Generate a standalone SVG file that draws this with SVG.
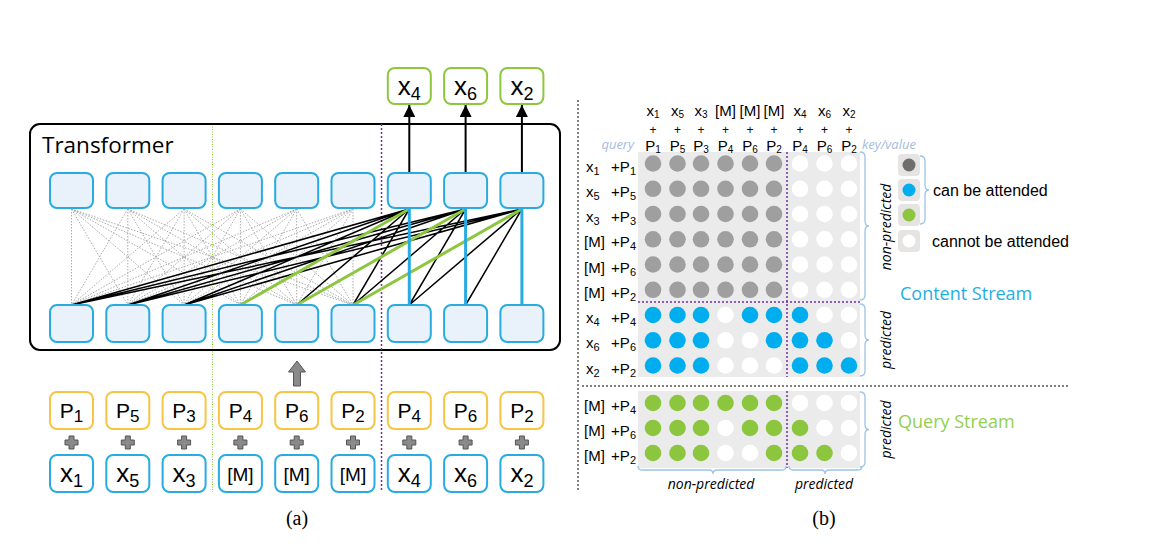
<svg xmlns="http://www.w3.org/2000/svg" width="1157" height="551" viewBox="0 0 1157 551">
<style>
text { font-family: "Liberation Sans", Arial, sans-serif; fill:#000; }
.tb { fill:#E9F1FA; stroke:#29ABE2; stroke-width:2; }
.ib { fill:#fff; stroke:#29ABE2; stroke-width:2; }
.pb { fill:#fff; stroke:#F7C544; stroke-width:2; }
.ob { fill:#fff; stroke:#8DC63F; stroke-width:2; }
.tx { font-size:26px; text-anchor:middle; }
.tx tspan { font-size:18px; }
.tp { font-size:21px; text-anchor:middle; }
.tp tspan { font-size:17px; }
.tm { font-size:19px; text-anchor:middle; }
.dot { fill:none; stroke:#aaaaaa; stroke-width:1; stroke-dasharray:1.5 1.5; }
.blk { fill:none; stroke:#000; stroke-width:1.5; }
.grn { fill:none; stroke:#8DC63F; stroke-width:3; }
.blu { fill:none; stroke:#29ABE2; stroke-width:3; }
.up { fill:none; stroke:#000; stroke-width:2; marker-end:url(#ah); }
.plus { fill:#8a8a8a; stroke:#555; stroke-width:1; }
.hd { font-size:15px; text-anchor:middle; }
.hd tspan { font-size:10px; }
.hp { font-size:12px; text-anchor:middle; }
.rl { font-size:15px; }
.rl tspan { font-size:11px; }
.bg { fill:#EBEBEB; }
.g { fill:#9F9F9F; } .b { fill:#00AEEF; } .q { fill:#8CC63F; } .w { fill:#fff; }
.pur { fill:none; stroke:#7030A0; stroke-width:1.5; stroke-dasharray:2 2; }
.br { fill:none; stroke:#9DC3E6; stroke-width:1.3; }
.it { font-family:"Open Sans", sans-serif; font-style:italic; font-size:14px; }
.lg { font-size:16px; }
.cap { font-family:"Liberation Serif", serif; font-size:20px; text-anchor:middle; }
</style>
<defs>
<marker id="ah" viewBox="0 0 10 10" refX="10" refY="5" markerWidth="12" markerHeight="12" markerUnits="userSpaceOnUse" orient="auto"><path d="M0,0 L10,5 L0,10 z" fill="#000"/></marker>
<path id="plusShape" d="M-2.5,-6.5 h5 v4 h4 v5 h-4 v4 h-5 v-4 h-4 v-5 h4 z"/>
</defs>

<!-- separators -->
<line x1="212.5" y1="124" x2="212.5" y2="492" stroke="#8DC63F" stroke-width="1" stroke-dasharray="1 1.5"/>
<line x1="578" y1="100" x2="578" y2="492" stroke="#000" stroke-width="1" stroke-dasharray="2 2"/>
<line x1="582" y1="386" x2="1070" y2="386" stroke="#000" stroke-width="1" stroke-dasharray="2 2"/>

<g id="transformer">
<rect x="30" y="124" width="530" height="226" rx="10" fill="none" stroke="#000" stroke-width="2"/>
<text x="42" y="153" style="font-family:'Open Sans',sans-serif;font-size:22.5px;">Transformer</text>
</g>
<line x1="381.5" y1="124" x2="381.5" y2="492" class="pur"/>

<g id="connectors">
<path class="dot" d="M71.5 209L71.5 305M71.5 209L127.8 305M71.5 209L184.1 305M71.5 209L240.4 305M71.5 209L296.7 305M71.5 209L353 305
M127.8 209L71.5 305M127.8 209L127.8 305M127.8 209L184.1 305M127.8 209L240.4 305M127.8 209L296.7 305M127.8 209L353 305
M184.1 209L71.5 305M184.1 209L127.8 305M184.1 209L184.1 305M184.1 209L240.4 305M184.1 209L296.7 305M184.1 209L353 305
M240.4 209L71.5 305M240.4 209L127.8 305M240.4 209L184.1 305M240.4 209L240.4 305M240.4 209L296.7 305M240.4 209L353 305
M296.7 209L71.5 305M296.7 209L127.8 305M296.7 209L184.1 305M296.7 209L240.4 305M296.7 209L296.7 305M296.7 209L353 305
M353 209L71.5 305M353 209L127.8 305M353 209L184.1 305M353 209L240.4 305M353 209L296.7 305M353 209L353 305"/>
<path class="blk" d="M409.3 209L71.5 305M409.3 209L127.8 305M409.3 209L184.1 305M409.3 209L296.7 305M409.3 209L353 305
M465.6 209L71.5 305M465.6 209L127.8 305M465.6 209L184.1 305M465.6 209L353 305M465.6 209L409.3 305
M521.9 209L71.5 305M521.9 209L127.8 305M521.9 209L184.1 305M521.9 209L409.3 305M521.9 209L465.6 305"/>
<path class="grn" d="M240.4 305L409.3 209M296.7 305L465.6 209M353 305L521.9 209"/>
<path class="blu" d="M409.3 209V305M465.6 209V305M521.9 209V305"/>
<path class="up" d="M409.3 173V105"/>
<path class="up" d="M465.6 173V105"/>
<path class="up" d="M521.9 173V105"/>
<polygon points="297,361 305.5,372 300.5,372 300.5,386 293.5,386 293.5,372 288.5,372" fill="#8a8a8a" stroke="#555" stroke-width="1"/>
<g class="plus">
<use href="#plusShape" x="71.5" y="442.5"/><use href="#plusShape" x="127.8" y="442.5"/><use href="#plusShape" x="184.1" y="442.5"/>
<use href="#plusShape" x="240.4" y="442.5"/><use href="#plusShape" x="296.7" y="442.5"/><use href="#plusShape" x="353" y="442.5"/>
<use href="#plusShape" x="409.3" y="442.5"/><use href="#plusShape" x="465.6" y="442.5"/><use href="#plusShape" x="521.9" y="442.5"/>
</g>
</g>

<!-- output nodes -->
<g id="out-x4"><rect class="ob" x="387.8" y="68" width="43" height="36" rx="7"/><text class="tx" x="409.3" y="95">x<tspan dy="5">4</tspan></text></g>
<g id="out-x6"><rect class="ob" x="444.1" y="68" width="43" height="36" rx="7"/><text class="tx" x="465.6" y="95">x<tspan dy="5">6</tspan></text></g>
<g id="out-x2"><rect class="ob" x="500.4" y="68" width="43" height="36" rx="7"/><text class="tx" x="521.9" y="95">x<tspan dy="5">2</tspan></text></g>

<!-- top hidden layer -->
<g id="h2-1"><rect class="tb" x="50" y="173" width="43" height="35" rx="7"/></g>
<g id="h2-2"><rect class="tb" x="106.3" y="173" width="43" height="35" rx="7"/></g>
<g id="h2-3"><rect class="tb" x="162.6" y="173" width="43" height="35" rx="7"/></g>
<g id="h2-4"><rect class="tb" x="218.9" y="173" width="43" height="35" rx="7"/></g>
<g id="h2-5"><rect class="tb" x="275.2" y="173" width="43" height="35" rx="7"/></g>
<g id="h2-6"><rect class="tb" x="331.5" y="173" width="43" height="35" rx="7"/></g>
<g id="h2-7"><rect class="tb" x="387.8" y="173" width="43" height="35" rx="7"/></g>
<g id="h2-8"><rect class="tb" x="444.1" y="173" width="43" height="35" rx="7"/></g>
<g id="h2-9"><rect class="tb" x="500.4" y="173" width="43" height="35" rx="7"/></g>

<!-- bottom hidden layer -->
<g id="h1-1"><rect class="tb" x="50" y="305" width="43" height="37" rx="7"/></g>
<g id="h1-2"><rect class="tb" x="106.3" y="305" width="43" height="37" rx="7"/></g>
<g id="h1-3"><rect class="tb" x="162.6" y="305" width="43" height="37" rx="7"/></g>
<g id="h1-4"><rect class="tb" x="218.9" y="305" width="43" height="37" rx="7"/></g>
<g id="h1-5"><rect class="tb" x="275.2" y="305" width="43" height="37" rx="7"/></g>
<g id="h1-6"><rect class="tb" x="331.5" y="305" width="43" height="37" rx="7"/></g>
<g id="h1-7"><rect class="tb" x="387.8" y="305" width="43" height="37" rx="7"/></g>
<g id="h1-8"><rect class="tb" x="444.1" y="305" width="43" height="37" rx="7"/></g>
<g id="h1-9"><rect class="tb" x="500.4" y="305" width="43" height="37" rx="7"/></g>

<!-- position nodes -->
<g id="p1"><rect class="pb" x="50" y="392" width="43" height="37" rx="7"/><text class="tp" x="71.5" y="418">P<tspan dy="4">1</tspan></text></g>
<g id="p5"><rect class="pb" x="106.3" y="392" width="43" height="37" rx="7"/><text class="tp" x="127.8" y="418">P<tspan dy="4">5</tspan></text></g>
<g id="p3"><rect class="pb" x="162.6" y="392" width="43" height="37" rx="7"/><text class="tp" x="184.1" y="418">P<tspan dy="4">3</tspan></text></g>
<g id="p4a"><rect class="pb" x="218.9" y="392" width="43" height="37" rx="7"/><text class="tp" x="240.4" y="418">P<tspan dy="4">4</tspan></text></g>
<g id="p6a"><rect class="pb" x="275.2" y="392" width="43" height="37" rx="7"/><text class="tp" x="296.7" y="418">P<tspan dy="4">6</tspan></text></g>
<g id="p2a"><rect class="pb" x="331.5" y="392" width="43" height="37" rx="7"/><text class="tp" x="353" y="418">P<tspan dy="4">2</tspan></text></g>
<g id="p4b"><rect class="pb" x="387.8" y="392" width="43" height="37" rx="7"/><text class="tp" x="409.3" y="418">P<tspan dy="4">4</tspan></text></g>
<g id="p6b"><rect class="pb" x="444.1" y="392" width="43" height="37" rx="7"/><text class="tp" x="465.6" y="418">P<tspan dy="4">6</tspan></text></g>
<g id="p2b"><rect class="pb" x="500.4" y="392" width="43" height="37" rx="7"/><text class="tp" x="521.9" y="418">P<tspan dy="4">2</tspan></text></g>

<!-- token nodes -->
<g id="x1"><rect class="ib" x="50" y="455" width="43" height="37" rx="7"/><text class="tx" x="71.5" y="482">x<tspan dy="5">1</tspan></text></g>
<g id="x5"><rect class="ib" x="106.3" y="455" width="43" height="37" rx="7"/><text class="tx" x="127.8" y="482">x<tspan dy="5">5</tspan></text></g>
<g id="x3"><rect class="ib" x="162.6" y="455" width="43" height="37" rx="7"/><text class="tx" x="184.1" y="482">x<tspan dy="5">3</tspan></text></g>
<g id="m4"><rect class="ib" x="218.9" y="455" width="43" height="37" rx="7"/><text class="tm" x="240.4" y="481">[M]</text></g>
<g id="m6"><rect class="ib" x="275.2" y="455" width="43" height="37" rx="7"/><text class="tm" x="296.7" y="481">[M]</text></g>
<g id="m2"><rect class="ib" x="331.5" y="455" width="43" height="37" rx="7"/><text class="tm" x="353" y="481">[M]</text></g>
<g id="x4"><rect class="ib" x="387.8" y="455" width="43" height="37" rx="7"/><text class="tx" x="409.3" y="482">x<tspan dy="5">4</tspan></text></g>
<g id="x6"><rect class="ib" x="444.1" y="455" width="43" height="37" rx="7"/><text class="tx" x="465.6" y="482">x<tspan dy="5">6</tspan></text></g>
<g id="x2"><rect class="ib" x="500.4" y="455" width="43" height="37" rx="7"/><text class="tx" x="521.9" y="482">x<tspan dy="5">2</tspan></text></g>

<text class="cap" x="297" y="525">(a)</text>

<!-- (b) attention mask -->
<g id="mask">
<rect class="bg" x="638" y="152" width="222" height="225"/>
<rect class="bg" x="638" y="391" width="222" height="77"/>
<g id="col-headers">
<text class="hd" x="653" y="116">x<tspan dy="2">1</tspan></text>
<text class="hd" x="677.5" y="116">x<tspan dy="2">5</tspan></text>
<text class="hd" x="701" y="116">x<tspan dy="2">3</tspan></text>
<text class="hd" x="725.5" y="116">[M]</text>
<text class="hd" x="750" y="116">[M]</text>
<text class="hd" x="774" y="116">[M]</text>
<text class="hd" x="800" y="116">x<tspan dy="2">4</tspan></text>
<text class="hd" x="824.5" y="116">x<tspan dy="2">6</tspan></text>
<text class="hd" x="849" y="116">x<tspan dy="2">2</tspan></text>
<text class="hp" x="653" y="133.5">+</text><text class="hp" x="677.5" y="133.5">+</text><text class="hp" x="701" y="133.5">+</text>
<text class="hp" x="725.5" y="133.5">+</text><text class="hp" x="750" y="133.5">+</text><text class="hp" x="774" y="133.5">+</text>
<text class="hp" x="800" y="133.5">+</text><text class="hp" x="824.5" y="133.5">+</text><text class="hp" x="849" y="133.5">+</text>
<text class="hd" x="653" y="151">P<tspan dy="2">1</tspan></text>
<text class="hd" x="677.5" y="151">P<tspan dy="2">5</tspan></text>
<text class="hd" x="701" y="151">P<tspan dy="2">3</tspan></text>
<text class="hd" x="725.5" y="151">P<tspan dy="2">4</tspan></text>
<text class="hd" x="750" y="151">P<tspan dy="2">6</tspan></text>
<text class="hd" x="774" y="151">P<tspan dy="2">2</tspan></text>
<text class="hd" x="800" y="151">P<tspan dy="2">4</tspan></text>
<text class="hd" x="824.5" y="151">P<tspan dy="2">6</tspan></text>
<text class="hd" x="849" y="151">P<tspan dy="2">2</tspan></text>
</g>
<text x="634" y="149" text-anchor="end" style="font-family:'Open Sans',sans-serif;font-style:italic;font-size:13px;fill:#A5BCE0;">query</text>
<text x="862" y="149" style="font-family:'Open Sans',sans-serif;font-style:italic;font-size:13px;fill:#A5BCE0;">key/value</text>

<g id="row-labels">
<text class="rl" x="586" y="171.5">x<tspan dy="3">1</tspan></text><text class="rl" x="636" y="171.5" text-anchor="end">+P<tspan dy="3">1</tspan></text>
<text class="rl" x="586" y="196.8">x<tspan dy="3">5</tspan></text><text class="rl" x="636" y="196.8" text-anchor="end">+P<tspan dy="3">5</tspan></text>
<text class="rl" x="586" y="222">x<tspan dy="3">3</tspan></text><text class="rl" x="636" y="222" text-anchor="end">+P<tspan dy="3">3</tspan></text>
<text class="rl" x="584" y="247.3">[M]</text><text class="rl" x="636" y="247.3" text-anchor="end">+P<tspan dy="3">4</tspan></text>
<text class="rl" x="584" y="272.5">[M]</text><text class="rl" x="636" y="272.5" text-anchor="end">+P<tspan dy="3">6</tspan></text>
<text class="rl" x="584" y="297.8">[M]</text><text class="rl" x="636" y="297.8" text-anchor="end">+P<tspan dy="3">2</tspan></text>
<text class="rl" x="586" y="323">x<tspan dy="3">4</tspan></text><text class="rl" x="636" y="323" text-anchor="end">+P<tspan dy="3">4</tspan></text>
<text class="rl" x="586" y="348.3">x<tspan dy="3">6</tspan></text><text class="rl" x="636" y="348.3" text-anchor="end">+P<tspan dy="3">6</tspan></text>
<text class="rl" x="586" y="373.5">x<tspan dy="3">2</tspan></text><text class="rl" x="636" y="373.5" text-anchor="end">+P<tspan dy="3">2</tspan></text>
<text class="rl" x="584" y="411">[M]</text><text class="rl" x="636" y="411" text-anchor="end">+P<tspan dy="3">4</tspan></text>
<text class="rl" x="584" y="436">[M]</text><text class="rl" x="636" y="436" text-anchor="end">+P<tspan dy="3">6</tspan></text>
<text class="rl" x="584" y="461">[M]</text><text class="rl" x="636" y="461" text-anchor="end">+P<tspan dy="3">2</tspan></text>
</g>

<g id="cells">
<g transform="translate(0,163.5)"><circle class="g" cx="653" r="8.3"/><circle class="g" cx="677.5" r="8.3"/><circle class="g" cx="701" r="8.3"/><circle class="g" cx="725.5" r="8.3"/><circle class="g" cx="750" r="8.3"/><circle class="g" cx="774" r="8.3"/><circle class="w" cx="800" r="8.3"/><circle class="w" cx="824.5" r="8.3"/><circle class="w" cx="849" r="8.3"/></g>
<g transform="translate(0,188.8)"><circle class="g" cx="653" r="8.3"/><circle class="g" cx="677.5" r="8.3"/><circle class="g" cx="701" r="8.3"/><circle class="g" cx="725.5" r="8.3"/><circle class="g" cx="750" r="8.3"/><circle class="g" cx="774" r="8.3"/><circle class="w" cx="800" r="8.3"/><circle class="w" cx="824.5" r="8.3"/><circle class="w" cx="849" r="8.3"/></g>
<g transform="translate(0,214)"><circle class="g" cx="653" r="8.3"/><circle class="g" cx="677.5" r="8.3"/><circle class="g" cx="701" r="8.3"/><circle class="g" cx="725.5" r="8.3"/><circle class="g" cx="750" r="8.3"/><circle class="g" cx="774" r="8.3"/><circle class="w" cx="800" r="8.3"/><circle class="w" cx="824.5" r="8.3"/><circle class="w" cx="849" r="8.3"/></g>
<g transform="translate(0,239.3)"><circle class="g" cx="653" r="8.3"/><circle class="g" cx="677.5" r="8.3"/><circle class="g" cx="701" r="8.3"/><circle class="g" cx="725.5" r="8.3"/><circle class="g" cx="750" r="8.3"/><circle class="g" cx="774" r="8.3"/><circle class="w" cx="800" r="8.3"/><circle class="w" cx="824.5" r="8.3"/><circle class="w" cx="849" r="8.3"/></g>
<g transform="translate(0,264.5)"><circle class="g" cx="653" r="8.3"/><circle class="g" cx="677.5" r="8.3"/><circle class="g" cx="701" r="8.3"/><circle class="g" cx="725.5" r="8.3"/><circle class="g" cx="750" r="8.3"/><circle class="g" cx="774" r="8.3"/><circle class="w" cx="800" r="8.3"/><circle class="w" cx="824.5" r="8.3"/><circle class="w" cx="849" r="8.3"/></g>
<g transform="translate(0,289.8)"><circle class="g" cx="653" r="8.3"/><circle class="g" cx="677.5" r="8.3"/><circle class="g" cx="701" r="8.3"/><circle class="g" cx="725.5" r="8.3"/><circle class="g" cx="750" r="8.3"/><circle class="g" cx="774" r="8.3"/><circle class="w" cx="800" r="8.3"/><circle class="w" cx="824.5" r="8.3"/><circle class="w" cx="849" r="8.3"/></g>
<g transform="translate(0,315)"><circle class="b" cx="653" r="8.3"/><circle class="b" cx="677.5" r="8.3"/><circle class="b" cx="701" r="8.3"/><circle class="w" cx="725.5" r="8.3"/><circle class="b" cx="750" r="8.3"/><circle class="b" cx="774" r="8.3"/><circle class="b" cx="800" r="8.3"/><circle class="w" cx="824.5" r="8.3"/><circle class="w" cx="849" r="8.3"/></g>
<g transform="translate(0,340.3)"><circle class="b" cx="653" r="8.3"/><circle class="b" cx="677.5" r="8.3"/><circle class="b" cx="701" r="8.3"/><circle class="w" cx="725.5" r="8.3"/><circle class="w" cx="750" r="8.3"/><circle class="b" cx="774" r="8.3"/><circle class="b" cx="800" r="8.3"/><circle class="b" cx="824.5" r="8.3"/><circle class="w" cx="849" r="8.3"/></g>
<g transform="translate(0,365.5)"><circle class="b" cx="653" r="8.3"/><circle class="b" cx="677.5" r="8.3"/><circle class="b" cx="701" r="8.3"/><circle class="w" cx="725.5" r="8.3"/><circle class="w" cx="750" r="8.3"/><circle class="w" cx="774" r="8.3"/><circle class="b" cx="800" r="8.3"/><circle class="b" cx="824.5" r="8.3"/><circle class="b" cx="849" r="8.3"/></g>
<g transform="translate(0,403)"><circle class="q" cx="653" r="8.3"/><circle class="q" cx="677.5" r="8.3"/><circle class="q" cx="701" r="8.3"/><circle class="q" cx="725.5" r="8.3"/><circle class="q" cx="750" r="8.3"/><circle class="q" cx="774" r="8.3"/><circle class="w" cx="800" r="8.3"/><circle class="w" cx="824.5" r="8.3"/><circle class="w" cx="849" r="8.3"/></g>
<g transform="translate(0,428)"><circle class="q" cx="653" r="8.3"/><circle class="q" cx="677.5" r="8.3"/><circle class="q" cx="701" r="8.3"/><circle class="w" cx="725.5" r="8.3"/><circle class="q" cx="750" r="8.3"/><circle class="q" cx="774" r="8.3"/><circle class="q" cx="800" r="8.3"/><circle class="w" cx="824.5" r="8.3"/><circle class="w" cx="849" r="8.3"/></g>
<g transform="translate(0,453)"><circle class="q" cx="653" r="8.3"/><circle class="q" cx="677.5" r="8.3"/><circle class="q" cx="701" r="8.3"/><circle class="w" cx="725.5" r="8.3"/><circle class="w" cx="750" r="8.3"/><circle class="q" cx="774" r="8.3"/><circle class="q" cx="800" r="8.3"/><circle class="q" cx="824.5" r="8.3"/><circle class="w" cx="849" r="8.3"/></g>
</g>

<line class="pur" x1="787" y1="152" x2="787" y2="377"/>
<line class="pur" x1="787" y1="391" x2="787" y2="468"/>
<line class="pur" x1="638" y1="302" x2="862" y2="302"/>

<g id="braces">
<path class="br" d="M860 152Q865 152 865 157L865 221Q865 226 869 226Q865 226 865 231L865 295Q865 300 860 300"/>
<path class="br" d="M860 304Q865 304 865 309L865 335Q865 340 869 340Q865 340 865 345L865 371Q865 376 860 376"/>
<path class="br" d="M860 392Q865 392 865 397L865 424.5Q865 429.5 869 429.5Q865 429.5 865 434.5L865 462Q865 467 860 467"/>
<path class="br" d="M638 466Q638 470 642 470L709 470Q713 470 713 474Q713 470 717 470L782 470Q786 470 786 466"/>
<path class="br" d="M789 466Q789 470 793 470L821 470Q825 470 825 474Q825 470 829 470L858 470Q862 470 862 466"/>
</g>
<text class="it" transform="translate(891,227) rotate(-90)" text-anchor="middle">non-predicted</text>
<text class="it" transform="translate(891,340) rotate(-90)" text-anchor="middle">predicted</text>
<text class="it" transform="translate(891,429.5) rotate(-90)" text-anchor="middle">predicted</text>
<text class="it" x="711" y="489" text-anchor="middle">non-predicted</text>
<text class="it" x="824" y="489" text-anchor="middle">predicted</text>
</g>

<g id="legend">
<rect x="898" y="154" width="22" height="22" rx="4" fill="#E6E3E3"/><circle cx="909" cy="165" r="6.5" fill="#6E6E6E"/>
<rect x="898" y="179" width="22" height="22" rx="4" fill="#E6E3E3"/><circle cx="909" cy="190" r="6.5" fill="#00AEEF"/>
<rect x="898" y="204" width="22" height="22" rx="4" fill="#E6E3E3"/><circle cx="909" cy="215" r="6.5" fill="#8CC63F"/>
<rect x="898" y="230" width="22" height="22" rx="4" fill="#E6E3E3"/><circle cx="909" cy="241" r="6.5" fill="#fff"/>
<path class="br" d="M920 156Q925 156 925 161L925 185Q925 190 929 190Q925 190 925 195L925 219Q925 224 920 224"/>
<text class="lg" x="933" y="196">can be attended</text>
<text class="lg" x="932" y="247">cannot be attended</text>
</g>
<text x="900" y="300" style="font-family:'Open Sans',sans-serif;font-size:18px;fill:#1FAEE3;">Content Stream</text>
<text x="898" y="428" style="font-family:'Open Sans',sans-serif;font-size:18px;fill:#92D050;">Query Stream</text>
<text class="cap" x="824" y="525">(b)</text>
</svg>
